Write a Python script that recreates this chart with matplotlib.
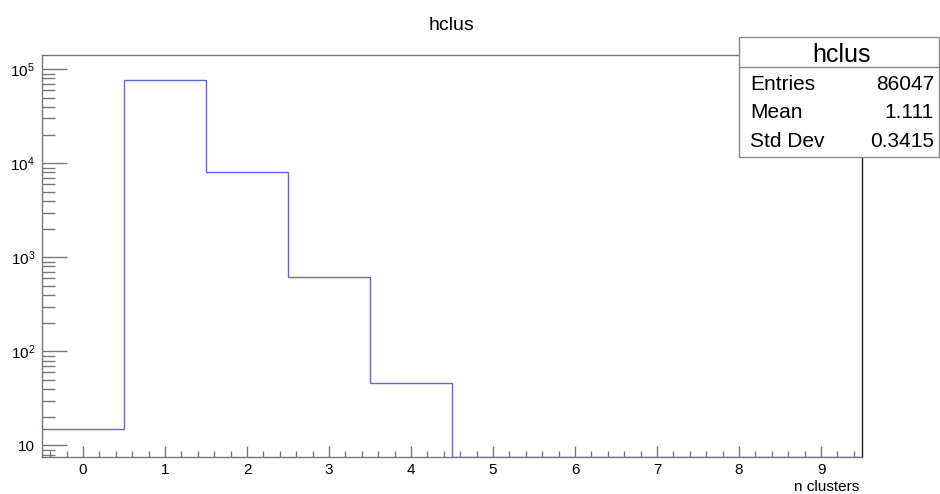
import numpy as np
import matplotlib
matplotlib.use("Agg")
import matplotlib.pyplot as plt
from matplotlib.patches import Rectangle
from matplotlib.lines import Line2D
from matplotlib.ticker import LogLocator, FuncFormatter, MultipleLocator

plt.rcParams['font.family'] = ['Liberation Sans', 'DejaVu Sans']
plt.rcParams['mathtext.fontset'] = 'custom'
plt.rcParams['mathtext.rm'] = 'Liberation Sans'
plt.rcParams['mathtext.it'] = 'Liberation Sans:italic'
plt.rcParams['mathtext.bf'] = 'Liberation Sans:bold'

# histogram data (bin contents of hclus)
edges = np.arange(-0.5, 10.0, 1.0)
counts = [15, 77178, 8188, 620, 46, 0, 0, 0, 0, 0]
stat_names = ["Entries", "Mean", "Std Dev"]
stat_values = ["86047", "1.111", "0.3415"]

W, H = 940, 494
fig = plt.figure(figsize=(W / 100, H / 100), dpi=100)
ax = fig.add_axes([42 / W, 1 - 457 / H, 820 / W, 402 / H])

ymin, ymax = 7.53, 1.42e5
vals = np.array(counts, dtype=float)
vals = np.where(vals > 0, vals, ymin)  # empty bins drawn at bottom like ROOT
ax.stairs(vals, edges, color='#6464e0', lw=1.0, baseline=None, zorder=3)

ax.set_yscale('log')
ax.set_xlim(-0.5, 9.5)
ax.set_ylim(ymin, ymax)

ax.xaxis.set_major_locator(MultipleLocator(1))
ax.xaxis.set_minor_locator(MultipleLocator(0.2))
ax.yaxis.set_major_locator(LogLocator(base=10, numticks=10))
ax.yaxis.set_minor_locator(LogLocator(base=10, subs=np.arange(2, 10), numticks=20))


def fmt(v, pos):
    e = int(round(np.log10(v)))
    if e == 1:
        return "10"
    return r"$\mathregular{10^{%d}}$" % e


ax.yaxis.set_major_formatter(FuncFormatter(fmt))
ax.yaxis.set_minor_formatter(FuncFormatter(lambda v, p: ""))

ax.tick_params(axis='y', which='major', direction='in', length=18, width=1,
               color='#777777', labelsize=11, pad=5)
ax.tick_params(axis='y', which='minor', direction='in', length=9, width=1,
               color='#777777')
ax.tick_params(axis='x', which='major', direction='in', length=8, width=1,
               color='#777777', labelsize=11, pad=4)
ax.tick_params(axis='x', which='minor', direction='in', length=4, width=1,
               color='#777777')
ax.tick_params(top=False, right=False, which='both')

for side in ['left', 'bottom', 'top']:
    ax.spines[side].set_color('#777777')
    ax.spines[side].set_linewidth(1)
ax.spines['right'].set_color('#222222')
ax.spines['right'].set_linewidth(1)

# title and axis label
fig.text(452 / W, 1 - 30 / H, "hclus", ha='center', va='baseline', fontsize=14)
fig.text(859 / W, 1 - 491 / H, "n clusters", ha='right', va='baseline', fontsize=11)

# stats box
bx0, by0, bx1, by1 = 739, 37, 939, 157
fig.add_artist(Rectangle((bx0 / W, 1 - by1 / H), (bx1 - bx0) / W, (by1 - by0) / H,
                         transform=fig.transFigure, facecolor='white',
                         edgecolor='#888888', lw=1, zorder=10))
fig.add_artist(Line2D([bx0 / W, bx1 / W], [1 - 67 / H, 1 - 67 / H],
                      transform=fig.transFigure, color='#888888', lw=1, zorder=11))
fig.text(841 / W, 1 - 62 / H, "hclus", ha='center', va='baseline', fontsize=18, zorder=12)
row_base = [90, 118, 147]
for name, val, yb in zip(stat_names, stat_values, row_base):
    fig.text(750 / W, 1 - yb / H, name, ha='left', va='baseline', fontsize=15, zorder=12)
    fig.text(934 / W, 1 - yb / H, val, ha='right', va='baseline', fontsize=15, zorder=12)

fig.savefig("out.png", dpi=100)
